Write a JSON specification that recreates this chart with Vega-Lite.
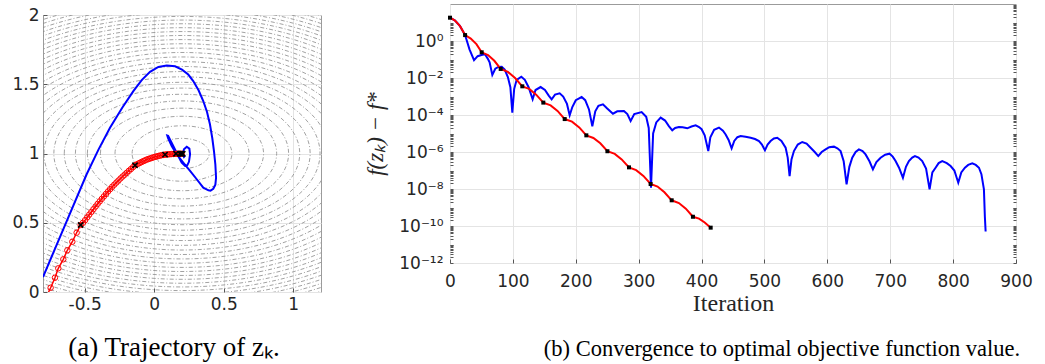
{
  "$schema": "https://vega.github.io/schema/vega-lite/v6.json",
  "padding": {"left": 11, "top": 3, "right": 5, "bottom": 0},
  "background": "white",
  "spacing": 42,
  "config": {
    "view": {"stroke": "#9b9b9b", "strokeWidth": 1},
    "axis": {"labelFont": "DejaVu Sans", "labelFontSize": 17, "labelColor": "#262626", "domain": false, "tickColor": "#555555", "tickWidth": 1, "gridColor": "#e4e4e4", "gridWidth": 1, "labelFlush": false, "labelOverlap": false, "titleColor": "#262626", "titleFontWeight": "normal"},
    "title": {"font": "Liberation Serif", "fontSize": 22, "fontWeight": "normal", "color": "#000000"}
  },
  "datasets": {
    "contours": [
      {"x": 0.2, "y": 1, "rx": 0.196}, {"x": 0.2, "y": 1, "rx": 0.359}, {"x": 0.2, "y": 1, "rx": 0.482}, {"x": 0.2, "y": 1, "rx": 0.587}, {"x": 0.2, "y": 1, "rx": 0.681},
      {"x": 0.2, "y": 1, "rx": 0.767}, {"x": 0.2, "y": 1, "rx": 0.847}, {"x": 0.2, "y": 1, "rx": 0.922}, {"x": 0.2, "y": 1, "rx": 0.993}, {"x": 0.2, "y": 1, "rx": 1.061},
      {"x": 0.2, "y": 1, "rx": 1.127}, {"x": 0.2, "y": 1, "rx": 1.189}, {"x": 0.2, "y": 1, "rx": 1.25}, {"x": 0.2, "y": 1, "rx": 1.308}, {"x": 0.2, "y": 1, "rx": 1.365},
      {"x": 0.2, "y": 1, "rx": 1.421}, {"x": 0.2, "y": 1, "rx": 1.475}, {"x": 0.2, "y": 1, "rx": 1.528}, {"x": 0.2, "y": 1, "rx": 1.579}, {"x": 0.2, "y": 1, "rx": 1.629},
      {"x": 0.2, "y": 1, "rx": 1.68}, {"x": 0.2, "y": 1, "rx": 1.728}, {"x": 0.2, "y": 1, "rx": 1.775}, {"x": 0.2, "y": 1, "rx": 1.822}, {"x": 0.2, "y": 1, "rx": 1.867},
      {"x": 0.2, "y": 1, "rx": 1.913}, {"x": 0.2, "y": 1, "rx": 1.958}, {"x": 0.2, "y": 1, "rx": 2.002}, {"x": 0.2, "y": 1, "rx": 2.045}, {"x": 0.2, "y": 1, "rx": 2.089}
    ],
    "blue_path": [
      {"i": 0, "x": -0.8, "y": 0.108}, {"i": 1, "x": -0.63, "y": 0.51}, {"i": 2, "x": -0.486, "y": 0.85}, {"i": 3, "x": -0.4, "y": 1.03},
      {"i": 4, "x": -0.318, "y": 1.186}, {"i": 5, "x": -0.23, "y": 1.33}, {"i": 6, "x": -0.15, "y": 1.45}, {"i": 7, "x": -0.09, "y": 1.53},
      {"i": 8, "x": -0.03, "y": 1.59}, {"i": 9, "x": 0.03, "y": 1.625}, {"i": 10, "x": 0.09, "y": 1.635}, {"i": 11, "x": 0.15, "y": 1.63},
      {"i": 12, "x": 0.2, "y": 1.605}, {"i": 13, "x": 0.245, "y": 1.57}, {"i": 14, "x": 0.281, "y": 1.523}, {"i": 15, "x": 0.32, "y": 1.455},
      {"i": 16, "x": 0.353, "y": 1.379}, {"i": 17, "x": 0.38, "y": 1.3}, {"i": 18, "x": 0.401, "y": 1.211}, {"i": 19, "x": 0.418, "y": 1.11},
      {"i": 20, "x": 0.43, "y": 1.018}, {"i": 21, "x": 0.44, "y": 0.92}, {"i": 22, "x": 0.445, "y": 0.825}, {"i": 23, "x": 0.44, "y": 0.775},
      {"i": 24, "x": 0.425, "y": 0.745}, {"i": 25, "x": 0.405, "y": 0.732}, {"i": 26, "x": 0.39, "y": 0.734}, {"i": 27, "x": 0.353, "y": 0.753},
      {"i": 28, "x": 0.306, "y": 0.814}, {"i": 29, "x": 0.258, "y": 0.874}, {"i": 30, "x": 0.209, "y": 0.934}, {"i": 31, "x": 0.162, "y": 0.994},
      {"i": 32, "x": 0.126, "y": 1.054}, {"i": 33, "x": 0.1, "y": 1.11}, {"i": 34, "x": 0.094, "y": 1.13}, {"i": 35, "x": 0.1, "y": 1.128},
      {"i": 36, "x": 0.109, "y": 1.11}, {"i": 37, "x": 0.137, "y": 1.054}, {"i": 38, "x": 0.173, "y": 0.982}, {"i": 39, "x": 0.198, "y": 0.934},
      {"i": 40, "x": 0.222, "y": 0.91}, {"i": 41, "x": 0.238, "y": 0.915}, {"i": 42, "x": 0.25, "y": 0.94}, {"i": 43, "x": 0.258, "y": 0.994},
      {"i": 44, "x": 0.253, "y": 1.035}, {"i": 45, "x": 0.234, "y": 1.049}, {"i": 46, "x": 0.214, "y": 1.03}, {"i": 47, "x": 0.205, "y": 0.994},
      {"i": 48, "x": 0.214, "y": 0.975}, {"i": 49, "x": 0.222, "y": 0.985}
    ],
    "red_path": [
      {"i": 0, "x": -0.776, "y": -0.035}, {"i": 1, "x": -0.745, "y": 0.031}, {"i": 2, "x": -0.714, "y": 0.103}, {"i": 3, "x": -0.69, "y": 0.171},
      {"i": 4, "x": -0.654, "y": 0.236}, {"i": 5, "x": -0.625, "y": 0.301}, {"i": 6, "x": -0.589, "y": 0.363}, {"i": 7, "x": -0.558, "y": 0.428},
      {"i": 8, "x": -0.529, "y": 0.484}, {"i": 9, "x": -0.512, "y": 0.5}, {"i": 10, "x": -0.497, "y": 0.519}, {"i": 11, "x": -0.482, "y": 0.539},
      {"i": 12, "x": -0.467, "y": 0.559}, {"i": 13, "x": -0.452, "y": 0.578}, {"i": 14, "x": -0.437, "y": 0.598}, {"i": 15, "x": -0.422, "y": 0.617},
      {"i": 16, "x": -0.407, "y": 0.636}, {"i": 17, "x": -0.392, "y": 0.654}, {"i": 18, "x": -0.377, "y": 0.672}, {"i": 19, "x": -0.362, "y": 0.69},
      {"i": 20, "x": -0.347, "y": 0.708}, {"i": 21, "x": -0.332, "y": 0.726}, {"i": 22, "x": -0.317, "y": 0.743}, {"i": 23, "x": -0.302, "y": 0.76},
      {"i": 24, "x": -0.287, "y": 0.775}, {"i": 25, "x": -0.272, "y": 0.79}, {"i": 26, "x": -0.257, "y": 0.805}, {"i": 27, "x": -0.242, "y": 0.82},
      {"i": 28, "x": -0.227, "y": 0.834}, {"i": 29, "x": -0.212, "y": 0.847}, {"i": 30, "x": -0.197, "y": 0.861}, {"i": 31, "x": -0.182, "y": 0.875},
      {"i": 32, "x": -0.167, "y": 0.888}, {"i": 33, "x": -0.152, "y": 0.902}, {"i": 34, "x": -0.138, "y": 0.915}, {"i": 35, "x": -0.126, "y": 0.921},
      {"i": 36, "x": -0.114, "y": 0.927}, {"i": 37, "x": -0.102, "y": 0.933}, {"i": 38, "x": -0.09, "y": 0.939}, {"i": 39, "x": -0.078, "y": 0.945},
      {"i": 40, "x": -0.066, "y": 0.95}, {"i": 41, "x": -0.054, "y": 0.956}, {"i": 42, "x": -0.042, "y": 0.96}, {"i": 43, "x": -0.03, "y": 0.964},
      {"i": 44, "x": -0.018, "y": 0.968}, {"i": 45, "x": -0.006, "y": 0.972}, {"i": 46, "x": 0.006, "y": 0.976}, {"i": 47, "x": 0.018, "y": 0.979},
      {"i": 48, "x": 0.03, "y": 0.982}, {"i": 49, "x": 0.042, "y": 0.985}, {"i": 50, "x": 0.054, "y": 0.988}, {"i": 51, "x": 0.066, "y": 0.99},
      {"i": 52, "x": 0.078, "y": 0.992}, {"i": 53, "x": 0.09, "y": 0.993}, {"i": 54, "x": 0.102, "y": 0.994}, {"i": 55, "x": 0.114, "y": 0.995},
      {"i": 56, "x": 0.126, "y": 0.996}, {"i": 57, "x": 0.138, "y": 0.997}, {"i": 58, "x": 0.15, "y": 0.997}, {"i": 59, "x": 0.162, "y": 0.998},
      {"i": 60, "x": 0.174, "y": 0.998}, {"i": 61, "x": 0.186, "y": 0.998}, {"i": 62, "x": 0.198, "y": 0.998}
    ],
    "restarts": [
      {"x": -0.529, "y": 0.484}, {"x": -0.138, "y": 0.915}, {"x": 0.078, "y": 0.992}, {"x": 0.157, "y": 0.998},
      {"x": 0.186, "y": 0.998}, {"x": 0.196, "y": 0.998}, {"x": 0.205, "y": 0.998}
    ],
    "conv_red": [
      {"it": 0, "gap": 18.2, "restart": 1}, {"it": 8, "gap": 12.6, "restart": 0}, {"it": 16, "gap": 6.31, "restart": 0},
      {"it": 24, "gap": 2.09, "restart": 1}, {"it": 33, "gap": 1.35, "restart": 0}, {"it": 42, "gap": 0.676, "restart": 0},
      {"it": 50.4, "gap": 0.245, "restart": 1}, {"it": 60.5, "gap": 0.174, "restart": 0}, {"it": 70.5, "gap": 0.0851, "restart": 0},
      {"it": 80.6, "gap": 0.0309, "restart": 1}, {"it": 92, "gap": 0.0214, "restart": 0}, {"it": 103.5, "gap": 0.01, "restart": 0},
      {"it": 115, "gap": 0.00355, "restart": 1}, {"it": 126, "gap": 0.00257, "restart": 0}, {"it": 137, "gap": 0.00126, "restart": 0},
      {"it": 148.4, "gap": 4.68e-4, "restart": 1}, {"it": 160, "gap": 3.31e-4, "restart": 0}, {"it": 171, "gap": 1.66e-4, "restart": 0},
      {"it": 182.4, "gap": 6.03e-5, "restart": 1}, {"it": 194, "gap": 4.37e-5, "restart": 0}, {"it": 205.5, "gap": 2.14e-5, "restart": 0},
      {"it": 216.8, "gap": 7.94e-6, "restart": 1}, {"it": 228, "gap": 5.75e-6, "restart": 0}, {"it": 239, "gap": 2.95e-6, "restart": 0},
      {"it": 250.3, "gap": 1.1e-6, "restart": 1}, {"it": 262, "gap": 7.94e-7, "restart": 0}, {"it": 273, "gap": 3.98e-7, "restart": 0},
      {"it": 284.6, "gap": 1.48e-7, "restart": 1}, {"it": 296, "gap": 1.05e-7, "restart": 0}, {"it": 307.5, "gap": 5.13e-8, "restart": 0},
      {"it": 319, "gap": 1.86e-8, "restart": 1}, {"it": 330, "gap": 1.35e-8, "restart": 0}, {"it": 341, "gap": 6.61e-9, "restart": 0},
      {"it": 352.5, "gap": 2.45e-9, "restart": 1}, {"it": 364, "gap": 1.74e-9, "restart": 0}, {"it": 375, "gap": 8.71e-10, "restart": 0},
      {"it": 386.3, "gap": 3.16e-10, "restart": 1}, {"it": 396, "gap": 2.51e-10, "restart": 0}, {"it": 405, "gap": 1.55e-10, "restart": 0},
      {"it": 414.5, "gap": 8.13e-11, "restart": 1}
    ],
    "conv_blue": [
      {"it": 0, "gap": 18.2}, {"it": 8, "gap": 12.6}, {"it": 16, "gap": 6.31}, {"it": 24, "gap": 2.09},
      {"it": 31, "gap": 0.355}, {"it": 38.2, "gap": 0.0912}, {"it": 44, "gap": 0.151}, {"it": 50, "gap": 0.174},
      {"it": 55.6, "gap": 0.191}, {"it": 60, "gap": 0.112}, {"it": 63, "gap": 0.0708}, {"it": 67.3, "gap": 0.0145},
      {"it": 72, "gap": 0.0316}, {"it": 77, "gap": 0.0398}, {"it": 82.2, "gap": 0.0407}, {"it": 87, "gap": 0.0282},
      {"it": 92, "gap": 0.0112}, {"it": 96, "gap": 0.00316}, {"it": 99.1, "gap": 1.35e-4}, {"it": 102, "gap": 0.00251},
      {"it": 106, "gap": 0.00794}, {"it": 113.4, "gap": 0.0117}, {"it": 119, "gap": 0.00794}, {"it": 125, "gap": 0.00316},
      {"it": 131.4, "gap": 7.08e-4}, {"it": 136, "gap": 0.00224}, {"it": 144.1, "gap": 0.00324}, {"it": 151, "gap": 0.00224},
      {"it": 157, "gap": 0.00112}, {"it": 161.6, "gap": 7.08e-4}, {"it": 167, "gap": 0.00126}, {"it": 174.4, "gap": 0.00148},
      {"it": 180, "gap": 0.001}, {"it": 186, "gap": 3.98e-4}, {"it": 190.3, "gap": 9.55e-5}, {"it": 194.5, "gap": 2.69e-4},
      {"it": 200, "gap": 6.31e-4}, {"it": 209.3, "gap": 9.33e-4}, {"it": 215, "gap": 6.31e-4}, {"it": 221, "gap": 2.0e-4},
      {"it": 226.3, "gap": 2.45e-5}, {"it": 231, "gap": 1.58e-4}, {"it": 236, "gap": 3.16e-4}, {"it": 243.2, "gap": 3.8e-4},
      {"it": 250, "gap": 2.24e-4}, {"it": 259.1, "gap": 1.17e-4}, {"it": 266, "gap": 1.58e-4}, {"it": 276.6, "gap": 1.66e-4},
      {"it": 282, "gap": 1.12e-4}, {"it": 287.2, "gap": 4.79e-5}, {"it": 293, "gap": 1.12e-4}, {"it": 304.7, "gap": 1.45e-4},
      {"it": 312, "gap": 7.94e-5}, {"it": 316, "gap": 2.0e-5}, {"it": 319.6, "gap": 1.17e-8}, {"it": 323, "gap": 1.0e-5},
      {"it": 328, "gap": 3.98e-5}, {"it": 335, "gap": 7.24e-5}, {"it": 342, "gap": 5.01e-5}, {"it": 348, "gap": 2.51e-5},
      {"it": 353.4, "gap": 1.48e-5}, {"it": 358, "gap": 2.0e-5}, {"it": 364, "gap": 2.24e-5}, {"it": 370, "gap": 2.19e-5},
      {"it": 377.3, "gap": 1.91e-5}, {"it": 384, "gap": 2.4e-5}, {"it": 390.6, "gap": 2.75e-5}, {"it": 396, "gap": 2.24e-5},
      {"it": 400.1, "gap": 1.7e-5}, {"it": 405, "gap": 7.94e-6}, {"it": 410.7, "gap": 1.12e-6}, {"it": 414, "gap": 6.31e-6},
      {"it": 420, "gap": 1.58e-5}, {"it": 427.7, "gap": 2.09e-5}, {"it": 434, "gap": 1.41e-5}, {"it": 438.3, "gap": 8.91e-6},
      {"it": 443, "gap": 4.47e-6}, {"it": 447.8, "gap": 1.58e-6}, {"it": 452, "gap": 3.98e-6}, {"it": 457, "gap": 6.31e-6},
      {"it": 462.1, "gap": 7.24e-6}, {"it": 470, "gap": 6.61e-6}, {"it": 478, "gap": 5.89e-6}, {"it": 485, "gap": 5.01e-6},
      {"it": 491.3, "gap": 3.89e-6}, {"it": 496, "gap": 2.51e-6}, {"it": 500.8, "gap": 1.23e-6}, {"it": 505, "gap": 2.51e-6},
      {"it": 509.8, "gap": 3.89e-6}, {"it": 515, "gap": 5.37e-6}, {"it": 520.4, "gap": 5.89e-6}, {"it": 527, "gap": 3.98e-6},
      {"it": 533.7, "gap": 1.7e-6}, {"it": 537, "gap": 5.01e-7}, {"it": 540, "gap": 5.01e-8}, {"it": 543, "gap": 3.98e-7},
      {"it": 546.9, "gap": 1.12e-6}, {"it": 553, "gap": 2.51e-6}, {"it": 560.1, "gap": 3.47e-6}, {"it": 567, "gap": 2.82e-6},
      {"it": 573.4, "gap": 1.7e-6}, {"it": 580, "gap": 1.0e-6}, {"it": 585.6, "gap": 6.03e-7}, {"it": 591, "gap": 1.0e-6},
      {"it": 597.2, "gap": 1.38e-6}, {"it": 603, "gap": 1.82e-6}, {"it": 610.5, "gap": 1.95e-6}, {"it": 616, "gap": 1.58e-6},
      {"it": 621.1, "gap": 1.12e-6}, {"it": 626, "gap": 3.16e-7}, {"it": 630.6, "gap": 1.78e-8}, {"it": 635, "gap": 1.58e-7},
      {"it": 639.6, "gap": 4.9e-7}, {"it": 645, "gap": 1.0e-6}, {"it": 650.2, "gap": 1.38e-6}, {"it": 656, "gap": 1.12e-6},
      {"it": 660.8, "gap": 7.41e-7}, {"it": 667, "gap": 3.16e-7}, {"it": 672.5, "gap": 1.15e-7}, {"it": 678, "gap": 2.82e-7},
      {"it": 684.7, "gap": 4.9e-7}, {"it": 692, "gap": 7.08e-7}, {"it": 699, "gap": 8.13e-7}, {"it": 704, "gap": 5.62e-7},
      {"it": 708.5, "gap": 3.24e-7}, {"it": 714, "gap": 1.41e-7}, {"it": 720.2, "gap": 4.07e-8}, {"it": 725, "gap": 1.58e-7},
      {"it": 729.7, "gap": 3.24e-7}, {"it": 735, "gap": 5.01e-7}, {"it": 739.3, "gap": 6.03e-7}, {"it": 745, "gap": 5.01e-7},
      {"it": 750.9, "gap": 3.24e-7}, {"it": 757, "gap": 1.26e-7}, {"it": 762.6, "gap": 9.55e-9}, {"it": 767, "gap": 7.94e-8},
      {"it": 772.1, "gap": 1.41e-7}, {"it": 777, "gap": 2.51e-7}, {"it": 782.7, "gap": 3.24e-7}, {"it": 790, "gap": 2.51e-7},
      {"it": 796, "gap": 1.74e-7}, {"it": 802, "gap": 1.0e-7}, {"it": 808.2, "gap": 2.19e-8}, {"it": 813, "gap": 7.94e-8},
      {"it": 818.8, "gap": 1.41e-7}, {"it": 824, "gap": 2.0e-7}, {"it": 830.5, "gap": 2.45e-7}, {"it": 836, "gap": 2.0e-7},
      {"it": 841.1, "gap": 1.41e-7}, {"it": 845, "gap": 6.31e-8}, {"it": 849, "gap": 9.55e-9}, {"it": 850.5, "gap": 3.16e-10},
      {"it": 851.7, "gap": 5.01e-11}
    ]
  },
  "hconcat": [
    {
      "spacing": 0,
      "vconcat": [
        {
          "width": 278,
          "height": 1,
          "data": {"values": [{"k": 0}]},
          "view": {"stroke": null},
          "mark": {"type": "point", "size": 0, "opacity": 0}
        },
        {
          "width": 278,
          "height": 277,
          "title": {"text": "(a) Trajectory of zₖ.", "orient": "bottom", "anchor": "middle", "offset": 23, "dx": -8, "fontSize": 27},
          "layer": [
            {
              "data": {"name": "contours"},
              "mark": {"type": "point", "shape": "M-1,0A1,0.5556,0,1,1,1,0A1,0.5556,0,1,1,-1,0Z", "filled": false, "color": "#8a8a8a", "stroke": "#8a8a8a", "strokeWidth": 0.8, "strokeDash": [4, 2, 1, 2], "opacity": 1, "clip": true},
              "encoding": {
                "x": {"field": "x", "type": "quantitative", "scale": {"domain": [-0.8, 1.2], "nice": false, "zero": false},
                      "axis": {"values": [-0.5, 0, 0.5, 1], "labelExpr": "'' + datum.value", "grid": true, "tickSize": -4, "labelPadding": 8, "title": null}},
                "y": {"field": "y", "type": "quantitative", "scale": {"domain": [0, 2], "nice": false, "zero": false},
                      "axis": {"values": [0, 0.5, 1, 1.5, 2], "labelExpr": "'' + datum.value", "grid": true, "tickSize": -4, "labelPadding": 8, "title": null}},
                "size": {"field": "rx", "type": "quantitative", "scale": {"type": "pow", "exponent": 2, "domain": [0, 1], "range": [0, 77284]}, "legend": null}
              }
            },
            {
              "data": {"name": "blue_path"},
              "mark": {"type": "line", "color": "#0000ff", "strokeWidth": 2, "clip": true},
              "encoding": {
                "x": {"field": "x", "type": "quantitative"},
                "y": {"field": "y", "type": "quantitative"},
                "order": {"field": "i", "type": "quantitative"}
              }
            },
            {
              "data": {"name": "red_path"},
              "mark": {"type": "line", "color": "#ff0000", "strokeWidth": 1.5, "clip": true},
              "encoding": {
                "x": {"field": "x", "type": "quantitative"},
                "y": {"field": "y", "type": "quantitative"},
                "order": {"field": "i", "type": "quantitative"}
              }
            },
            {
              "data": {"name": "red_path"},
              "mark": {"type": "point", "shape": "circle", "filled": false, "color": "#ff0000", "strokeWidth": 1, "size": 30, "opacity": 1, "clip": true},
              "encoding": {
                "x": {"field": "x", "type": "quantitative"},
                "y": {"field": "y", "type": "quantitative"}
              }
            },
            {
              "data": {"name": "restarts"},
              "mark": {"type": "point", "shape": "M-1,-1L1,1M-1,1L1,-1", "filled": false, "color": "#000000", "strokeWidth": 1.6, "size": 28, "opacity": 1},
              "encoding": {
                "x": {"field": "x", "type": "quantitative"},
                "y": {"field": "y", "type": "quantitative"}
              }
            }
          ]
        }
      ]
    },
    {
      "width": 566,
      "height": 259,
      "title": {"text": "(b) Convergence to optimal objective function value.", "orient": "bottom", "anchor": "middle", "offset": 23, "dx": 49, "fontSize": 22.5},
      "layer": [
        {
          "data": {"name": "conv_blue"},
          "mark": {"type": "line", "color": "#0000ff", "strokeWidth": 2, "clip": true},
          "encoding": {
            "x": {"field": "it", "type": "quantitative", "scale": {"domain": [0, 900], "nice": false, "zero": false},
                  "axis": {"values": [0, 100, 200, 300, 400, 500, 600, 700, 800, 900], "grid": true, "tickSize": -4, "labelPadding": 14,
                           "title": "Iteration", "titleFont": "Liberation Serif", "titleFontSize": 24, "titlePadding": 2}},
            "y": {"field": "gap", "type": "quantitative", "scale": {"type": "log", "domain": [1e-12, 100], "nice": false},
                  "axis": {"orient": "left",
                           "values": [1e-12,2e-12,3e-12,4e-12,5e-12,6e-12,7e-12,8e-12,9e-12,1e-11,2e-11,3e-11,4e-11,5e-11,6e-11,7e-11,8e-11,9e-11,1e-10,2e-10,3e-10,4e-10,5e-10,6e-10,7e-10,8e-10,9e-10,1e-9,2e-9,3e-9,4e-9,5e-9,6e-9,7e-9,8e-9,9e-9,1e-8,2e-8,3e-8,4e-8,5e-8,6e-8,7e-8,8e-8,9e-8,1e-7,2e-7,3e-7,4e-7,5e-7,6e-7,7e-7,8e-7,9e-7,1e-6,2e-6,3e-6,4e-6,5e-6,6e-6,7e-6,8e-6,9e-6,1e-5,2e-5,3e-5,4e-5,5e-5,6e-5,7e-5,8e-5,9e-5,1e-4,2e-4,3e-4,4e-4,5e-4,6e-4,7e-4,8e-4,9e-4,0.001,0.002,0.003,0.004,0.005,0.006,0.007,0.008,0.009,0.01,0.02,0.03,0.04,0.05,0.06,0.07,0.08,0.09,0.1,0.2,0.3,0.4,0.5,0.6,0.7,0.8,0.9,1,2,3,4,5,6,7,8,9],
                           "grid": true,
                           "gridOpacity": {"condition": {"test": "abs(log(datum.value)/LN10 - round(log(datum.value)/LN10)) < 0.01 && round(log(datum.value)/LN10) % 2 == 0 && datum.value < 10", "value": 1}, "value": 0},
                           "labelExpr": "(abs(log(datum.value)/LN10 - round(log(datum.value)/LN10)) < 0.01 && round(log(datum.value)/LN10) % 2 == 0 && datum.value < 10) ? ['10⁰','10⁻²','10⁻⁴','10⁻⁶','10⁻⁸','10⁻¹⁰','10⁻¹²'][-round(log(datum.value)/LN10)/2] : ''",
                           "tickSize": -3, "labelPadding": 10,
                           "title": "f(zₖ)  −  f*", "titleFont": "Liberation Serif", "titleFontStyle": "italic", "titleFontSize": 23, "titlePadding": 11}}
          }
        },
        {
          "data": {"name": "conv_red"},
          "mark": {"type": "line", "color": "#ff0000", "strokeWidth": 2, "clip": true},
          "encoding": {
            "x": {"field": "it", "type": "quantitative"},
            "y": {"field": "gap", "type": "quantitative",
                  "axis": {"orient": "right",
                           "values": [1e-12,2e-12,3e-12,4e-12,5e-12,6e-12,7e-12,8e-12,9e-12,1e-11,2e-11,3e-11,4e-11,5e-11,6e-11,7e-11,8e-11,9e-11,1e-10,2e-10,3e-10,4e-10,5e-10,6e-10,7e-10,8e-10,9e-10,1e-9,2e-9,3e-9,4e-9,5e-9,6e-9,7e-9,8e-9,9e-9,1e-8,2e-8,3e-8,4e-8,5e-8,6e-8,7e-8,8e-8,9e-8,1e-7,2e-7,3e-7,4e-7,5e-7,6e-7,7e-7,8e-7,9e-7,1e-6,2e-6,3e-6,4e-6,5e-6,6e-6,7e-6,8e-6,9e-6,1e-5,2e-5,3e-5,4e-5,5e-5,6e-5,7e-5,8e-5,9e-5,1e-4,2e-4,3e-4,4e-4,5e-4,6e-4,7e-4,8e-4,9e-4,0.001,0.002,0.003,0.004,0.005,0.006,0.007,0.008,0.009,0.01,0.02,0.03,0.04,0.05,0.06,0.07,0.08,0.09,0.1,0.2,0.3,0.4,0.5,0.6,0.7,0.8,0.9,1,2,3,4,5,6,7,8,9,10,20,30,40,50,60,70,80,90],
                           "labels": false, "grid": false, "tickSize": -3, "title": null}}
          }
        },
        {
          "data": {"name": "conv_red"},
          "transform": [{"filter": "datum.restart == 1"}],
          "mark": {"type": "square", "color": "#000000", "size": 16, "opacity": 1},
          "encoding": {
            "x": {"field": "it", "type": "quantitative"},
            "y": {"field": "gap", "type": "quantitative", "axis": null}
          }
        }
      ],
      "resolve": {"axis": {"y": "independent"}}
    }
  ]
}
